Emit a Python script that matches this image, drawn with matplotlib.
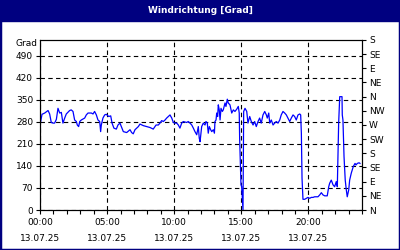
import matplotlib
matplotlib.use("Agg")
import matplotlib.pyplot as plt
from matplotlib.patches import Rectangle

title = "Windrichtung [Grad]"
y_label = "Grad"
x_tick_hours = [0, 5, 10, 15, 20]
x_tick_labels = ["00:00\n13.07.25", "05:00\n13.07.25", "10:00\n13.07.25",
                 "15:00\n13.07.25", "20:00\n13.07.25"]
y_ticks = [0, 70, 140, 210, 280, 350, 420, 490]
compass_ticks = [0, 45, 90, 135, 180, 225, 270, 315, 360, 405, 450, 495, 540]
compass_labels = ["N", "NE", "E", "SE", "S", "SW", "W", "NW", "N", "NE", "E", "SE", "S"]

# time in hours, direction in degrees
hours = [0.05, 0.15, 0.35, 0.6, 0.72, 0.84, 0.97, 1.09, 1.22, 1.34, 1.47, 1.59, 1.71,
         1.84, 1.96, 2.21, 2.33, 2.46, 2.58, 2.71, 2.78, 2.88, 2.96, 3.08, 3.33, 3.45,
         3.58, 3.83, 3.95, 4.07, 4.2, 4.32, 4.45, 4.52, 4.57, 4.69, 4.82, 4.94, 5.12,
         5.27, 5.37, 5.51, 5.69, 5.81, 5.96,
         6.21, 6.46, 6.71, 6.83, 6.95, 7.08, 7.33, 7.45, 7.70, 7.95, 8.20, 8.44, 8.65,
         8.82, 8.94, 9.07, 9.19, 9.32, 9.44, 9.56, 9.69, 9.82, 9.94, 10.06, 10.19,
         10.31, 10.43, 10.56, 10.68, 10.93, 11.05, 11.18, 11.31, 11.43, 11.55, 11.68,
         11.80, 11.87, 11.93, 12.05, 12.17, 12.30, 12.37, 12.47, 12.54, 12.62, 12.72,
         12.80, 12.92, 13.0, 13.04, 13.12, 13.17, 13.24, 13.29, 13.36, 13.42, 13.49,
         13.59, 13.66, 13.79, 13.86, 13.96, 14.03, 14.16, 14.29, 14.41, 14.53, 14.66,
         14.78, 14.85, 14.88, 14.98, 15.03, 15.13, 15.18, 15.28, 15.41, 15.50, 15.63,
         15.75, 15.88, 16.0, 16.12, 16.25, 16.37, 16.49, 16.62, 16.75, 16.87, 16.94,
         17.05, 17.12, 17.24, 17.37, 17.49, 17.61, 17.74, 17.87, 17.98, 18.11, 18.24,
         18.36, 18.48, 18.61, 18.73, 18.86, 18.98, 19.10, 19.23, 19.36, 19.43, 19.48,
         19.53, 19.60, 19.73, 19.85, 19.97, 20.10, 20.22, 20.35, 20.47, 20.72, 20.85,
         20.97, 21.09, 21.22, 21.41, 21.52, 21.59, 21.71, 21.84, 21.96, 22.08, 22.16,
         22.26, 22.34, 22.51, 22.53, 22.58, 22.66, 22.75, 22.83, 22.90, 23.01, 23.08,
         23.20, 23.35, 23.48, 23.55, 23.65, 23.78, 23.85]
degrees = [281, 304, 308, 316, 305, 278, 276, 276, 288, 323, 308, 310, 276,
           292, 305, 316, 318, 313, 286, 281, 270, 265, 281, 286, 292, 302,
           308, 308, 305, 313, 302, 286, 281, 249, 270, 292, 302, 304, 297,
           299, 276, 260, 257, 270, 276,
           249, 246, 255, 246, 242, 255, 265, 273, 268, 265, 262, 257, 270,
           270, 276, 284, 281, 286, 292, 297, 302, 292, 278, 276, 276,
           270, 260, 276, 281, 278, 281, 276, 270, 260, 249, 239,
           265, 228, 217, 265, 276, 270, 281, 276, 244, 265, 255,
           249, 255, 244, 281, 286, 308, 297, 334, 318, 286, 323,
           313, 318, 340, 329, 352, 340, 334, 308, 318, 313, 320,
           329, 308, 228, 80, 75, 0, 313, 323, 313, 276, 297,
           281, 270, 281, 265, 281, 292, 276, 302, 313, 302, 292,
           308, 276, 286, 270, 276, 281, 276, 286, 302, 313, 308,
           302, 292, 281, 292, 302, 297, 286, 302, 305, 302, 244,
           101, 34, 34, 37, 40, 37, 40, 40, 42, 42, 48,
           55, 48, 45, 45, 74, 85, 95, 80, 74, 90, 74,
           276, 360, 360, 302, 286, 170, 95, 64, 42, 64, 95,
           117, 138, 148, 143, 148, 150, 148]

navy = "#000080"
fig = plt.figure(figsize=(4, 2.5), dpi=100)
fig.patch.set_facecolor("white")

# frame and title bar
fig.patches.append(Rectangle((0, 0), 1, 1, transform=fig.transFigure, fill=False,
                             edgecolor=navy, linewidth=2.5, zorder=0))
fig.patches.append(Rectangle((0, 1 - 21 / 250), 1, 21 / 250, transform=fig.transFigure,
                             facecolor=navy, edgecolor=navy, zorder=0))
fig.text(0.5, 1 - 10.5 / 250, title, color="white", ha="center", va="center",
         fontsize=6.5, fontweight="bold")

ax = fig.add_axes([40 / 400, 1 - 210 / 250, 322 / 400, 170 / 250])
ax.plot(hours, degrees, color="#0000FF", linewidth=0.9, zorder=3)
ax.set_xlim(0, 24)
ax.set_ylim(0, 540)

ax.set_xticks(x_tick_hours)
ax.set_xticklabels(x_tick_labels, fontsize=6.5, linespacing=1.95)
ax.set_xticks(range(0, 25), minor=True)
ax.set_yticks(y_ticks)
ax.set_yticklabels([str(v) for v in y_ticks], fontsize=6.5)
ax.tick_params(axis="both", which="both", direction="out", length=3, width=0.8,
               color="black", labelcolor="black", pad=2)
ax.tick_params(axis="x", which="major", pad=3)

ax.grid(True, which="major", color="black", linestyle=(0, (4, 3)), linewidth=0.8)
for s in ax.spines.values():
    s.set_color("black")
    s.set_linewidth(0.8)

ax2 = ax.twinx()
ax2.set_ylim(0, 540)
ax2.set_yticks(compass_ticks)
ax2.set_yticklabels(compass_labels, fontsize=6.5)
ax2.tick_params(axis="y", direction="out", length=3, width=0.8, color="black",
                labelcolor="black", pad=2)

fig.text(37 / 400, 1 - 44 / 250, y_label, ha="right", va="center", fontsize=6.5)

fig.savefig("out.png", dpi=100, facecolor="white")
